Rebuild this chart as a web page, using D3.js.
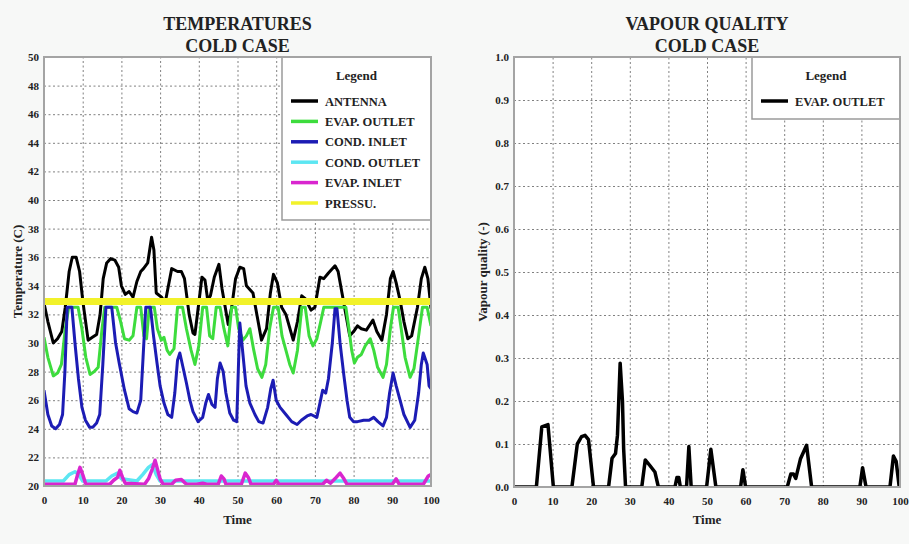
<!DOCTYPE html>
<html>
<head>
<meta charset="utf-8">
<script src="https://cdn.jsdelivr.net/npm/d3@7"></script>
<style>
    body { margin: 0; background: #f7f8f7; }
    svg { display: block; font-family: "Liberation Serif", "DejaVu Serif", serif; font-weight: bold; }
</style>
</head>
<body>
<div id="vis"></div>
<script>
// Data (time, value)
const X_TICKS = [0, 10, 20, 30, 40, 50, 60, 70, 80, 90, 100];
const TEMP_TICKS = [20, 22, 24, 26, 28, 30, 32, 34, 36, 38, 40, 42, 44, 46, 48, 50];
const QUALITY_TICKS = [0, 0.1, 0.2, 0.3, 0.4, 0.5, 0.6, 0.7, 0.8, 0.9, 1.0];

const ANTENNA = [[0,32.8],[1,31.5],[2.4,30],[3.5,30.3],[4.6,30.8],[5.5,32.5],[6.5,35],[7.3,36],[8.3,36],[9.2,35],[10,33],
    [11.4,30.2],[12.5,30.4],[13.6,30.6],[14.5,32],[15.3,34.5],[16.2,35.6],[17.2,35.9],[18.3,35.8],[19.3,35.3],[20,34],
    [21,33.4],[22,33.6],[23,33.2],[24,34.3],[25,35],[25.7,35.2],[26.8,35.6],[27.8,37.4],[28.4,36.5],[29,33.5],[30.4,33.2],
    [31.3,32.8],[32,33.8],[33,35.2],[34.5,35],[35.5,35],[36.3,34.5],[37.5,32],[38.5,30.7],[39,30.6],[40,32.8],[40.8,34.6],
    [41.6,34.4],[42.3,33],[43,33.3],[44,34.6],[45.2,35.5],[46,33.8],[47.6,31.3],[48.5,32.5],[49.5,34.5],[50.6,35.3],
    [51.6,35.2],[52.3,34],[53,33.8],[54,33.5],[55,32],[56.2,30.2],[57.5,31],[58.5,33.5],[59.3,34.8],[60.3,34.2],[61.4,32.5],
    [62.5,32],[64.4,30.2],[65.5,31.5],[66.6,33.3],[67.5,33.1],[69,32.3],[70,32.5],[71.3,34.6],[72.3,34.5],[73.5,34.9],
    [75.2,35.4],[76,35],[77,33.5],[78,32],[79,30.5],[80,30.8],[81,31.2],[82,31],[83.3,30.9],[85,31.6],[86,30.8],[87.3,30.2],
    [88.5,32],[89.5,34.5],[90.2,35],[91,34.2],[92,33],[93,31.5],[94,30.3],[95,30.5],[96.5,32.5],[97.5,34.5],[98.4,35.3],
    [99.2,34.5],[100,32.4]];

const EVAP_OUTLET = [[0,30.4],[1,29],[2.4,27.7],[3.5,27.9],[4.5,28.5],[5.5,31],[6.4,32.5],[8.8,32.5],[9.8,31],[10.8,29],
    [11.9,27.8],[13,28],[14,28.3],[15,31],[15.7,32.5],[18.8,32.5],[19.8,31.5],[20.8,30.3],[22,30.2],[23,30.5],[24,32.5],
    [25,32.5],[25.8,30.5],[26.5,30.3],[27.2,32.5],[28.5,32.5],[29.3,31],[30.3,30.2],[31,30.4],[31.8,29.5],[32.5,29.2],
    [33.6,29.6],[34.5,32.5],[35.8,32.5],[36.8,31],[38,29.5],[39,28.5],[40,29.8],[41,32.5],[42,32.5],[42.8,30.5],[43.6,30.3],
    [44.5,32.5],[45.5,32.5],[46.5,31],[47.5,29.8],[48.5,32.5],[49.5,32.5],[50.3,31],[51.4,30.2],[52.3,30.5],[53.2,31],
    [54.2,29.5],[55.2,28.2],[56.3,27.6],[57.3,28.5],[58.3,31],[59.3,32.5],[60.5,32.5],[61.5,30.5],[62.5,29.5],[63.5,28.5],
    [64.4,27.9],[65.5,29.5],[66.6,32.5],[67.5,32.5],[68.5,30.5],[69.5,29.8],[70.5,30.3],[71.5,31.5],[72.3,32.5],[78,32.5],
    [78.8,31],[79.5,29.5],[80.2,28.6],[81,29],[82,29.2],[83,29.8],[84.3,30.3],[85.2,29.5],[86.2,28.3],[87.6,27.6],[88.5,28.5],
    [89.5,31],[90.3,32.5],[91.5,32.5],[92.3,31],[93.3,29],[94.6,27.6],[95.6,28.2],[96.8,30.5],[97.8,32.5],[99,32.5],[100,31.2]];

const COND_INLET = [[0,26.7],[1,25],[2,24.2],[3,24],[4,24.3],[4.8,25],[5.4,28],[6,32.5],[7.2,32.5],[8,30],[8.9,27.5],
    [9.8,25.5],[10.7,24.6],[11.8,24.1],[12.6,24.1],[13.6,24.4],[14.4,25],[15.2,28.5],[16,32.5],[17.5,32.5],[18.5,30],
    [19.5,28.5],[20.8,26.7],[22,25.4],[23,25.2],[24,25.1],[25,26],[25.6,29],[26.3,32.5],[27.5,32.5],[28.3,30.5],[29.2,28.6],
    [30,27],[31,25.8],[32,25],[33,24.8],[33.8,26.5],[34.5,28.8],[35.1,29.3],[36,28.2],[36.8,27.2],[37.7,26],[38.5,25.2],
    [39.8,24.5],[41,24.8],[41.8,25.8],[42.5,26.4],[43.4,25.7],[44.2,25.5],[44.8,27.5],[45.5,28.6],[46.3,28],[47,26.5],
    [48,25.1],[49,24.6],[49.8,24.5],[50.2,28],[50.6,31.4],[51.3,29.5],[52.2,27],[53.2,25.8],[54.5,25],[55.5,24.5],[56.6,24.4],
    [57.8,25.5],[58.6,26.8],[59.2,27.4],[60,26],[61,25.5],[62.5,25],[64,24.5],[65.4,24.3],[66.5,24.6],[68,24.9],[69,25],
    [70.5,24.8],[71.3,25.8],[72,26.7],[72.8,26.5],[73.5,27.5],[74.5,30],[75.2,32.4],[75.7,32.4],[76.5,30],[77.5,27.7],
    [78.3,26],[79,24.8],[80,24.5],[81,24.5],[82.6,24.6],[84,24.6],[85.2,24.8],[86.3,24.5],[87.6,24.2],[88.5,24.8],[89.3,26.5],
    [90.2,27.9],[91,27],[92,26],[93,25],[94.6,24.1],[95.8,24.6],[96.8,26.5],[97.5,28.5],[98,29.3],[99,28.5],[99.5,27],[100,26.8]];

const COND_OUTLET = [[0,20.35],[5,20.35],[6.5,20.8],[8,21],[9,20.8],[10,20.35],[16,20.35],[17.5,20.7],[19,20.9],[20,20.5],
    [24,20.35],[25.5,20.8],[27,21.3],[28,21.5],[29,20.8],[30,20.35],[100,20.35]];

const EVAP_INLET = [[0,20.12],[8,20.12],[8.7,20.8],[9.3,21.3],[10,20.8],[10.7,20.2],[11,20.12],[17,20.12],[18,20.4],[19,20.6],
    [19.6,21.1],[20.3,20.6],[21,20.2],[26,20.12],[27,20.5],[28,21.2],[28.7,21.8],[29.3,21.2],[30,20.5],[30.8,20.12],[33,20.12],
    [34,20.4],[35.5,20.45],[36.5,20.2],[37,20.12],[39.5,20.12],[41,20.2],[42,20.12],[45,20.12],[45.8,20.7],[46.5,20.5],[47,20.12],
    [51,20.12],[52,20.9],[52.8,20.6],[53.5,20.12],[59.3,20.12],[60,20.4],[60.7,20.12],[72,20.12],[73,20.4],[74,20.2],[75.5,20.6],
    [76.5,20.9],[77.5,20.5],[78.3,20.12],[90,20.12],[91,20.5],[91.8,20.12],[98,20.12],[99.3,20.7],[100,20.8]];

const PRESSU = [[0,32.9],[100,32.9]];

const QUALITY = [[0,0],[5.8,0],[7.2,0.14],[8.8,0.145],[10.2,0],[15,0],[16.4,0.1],[17.5,0.117],[18.4,0.12],[19.3,0.11],
    [20.6,0],[24.5,0],[25.4,0.067],[26.3,0.078],[26.8,0.12],[27.5,0.288],[28.1,0.2],[28.4,0.09],[28.9,0],[33.1,0],[34,0.063],
    [35.2,0.05],[36.5,0.035],[37.4,0],[41.7,0],[42.2,0.022],[42.7,0.022],[43.1,0],[44.7,0],[45.3,0.094],[45.9,0],[49.9,0],
    [51,0.088],[52.3,0],[58.7,0],[59.3,0.04],[60,0],[70.8,0],[71.7,0.03],[72.4,0.03],[73,0.02],[74.2,0.065],[75.8,0.097],
    [77.1,0],[89.6,0],[90.3,0.045],[91.2,0],[97.4,0],[98.3,0.072],[99,0.06],[99.8,0],[100,0]];

// Constants
const FRAME_WIDTH = 909;
const FRAME_HEIGHT = 544;
const TICK_FONT = "11px";

const FRAME = d3.select("#vis")
    .append("svg")
    .attr("width", FRAME_WIDTH)
    .attr("height", FRAME_HEIGHT);

function build_panel(p) {

    const X_SCALE = d3.scaleLinear().domain([0, 100]).range([p.left, p.right]);
    const Y_SCALE = d3.scaleLinear().domain(p.yDomain).range([p.bottom, p.top]);
    const PW = p.right - p.left;
    const PH = p.bottom - p.top;

    // white plot area
    FRAME.append("rect")
        .attr("x", p.left).attr("y", p.top)
        .attr("width", PW).attr("height", PH)
        .attr("fill", "#ffffff");

    // y axis with grid lines
    const yAxis = FRAME.append("g")
        .attr("transform", "translate(" + p.left + ",0)")
        .call(d3.axisLeft(Y_SCALE).tickValues(p.yTicks).tickSize(-PW).tickPadding(5).tickFormat(p.yFormat));
    // x axis with grid lines
    const xAxis = FRAME.append("g")
        .attr("transform", "translate(0," + p.bottom + ")")
        .call(d3.axisBottom(X_SCALE).tickValues(X_TICKS).tickSize(-PH).tickPadding(10).tickFormat(d3.format("d")));

    [yAxis, xAxis].forEach((g) => {
        g.select(".domain").remove();
        g.selectAll(".tick line")
            .attr("stroke", "#808080")
            .attr("stroke-width", 1)
            .attr("stroke-dasharray", "2,2.5");
        g.selectAll(".tick text")
            .attr("fill", "#222")
            .attr("font-size", TICK_FONT)
            .attr("font-family", "Liberation Serif, serif")
            .attr("font-weight", "bold");
    });

    // curves
    const clipId = "clip" + p.left;
    FRAME.append("clipPath").attr("id", clipId)
        .append("rect")
        .attr("x", p.left).attr("y", p.top - 4)
        .attr("width", PW).attr("height", PH + 4);

    const line = d3.line()
        .x((d) => { return X_SCALE(d[0]); })
        .y((d) => { return Y_SCALE(d[1]); });

    FRAME.append("g")
        .attr("clip-path", "url(#" + clipId + ")")
        .selectAll("path")
        .data(p.series)
        .enter()
        .append("path")
        .attr("d", (d) => { return line(d.values); })
        .attr("fill", "none")
        .attr("stroke", (d) => { return d.color; })
        .attr("stroke-width", (d) => { return d.width; })
        .attr("stroke-linejoin", "round");

    // legend
    const lg = FRAME.append("g");
    lg.append("rect")
        .attr("x", p.legend.x).attr("y", p.top)
        .attr("width", p.right - p.legend.x).attr("height", p.legend.h)
        .attr("fill", "#ffffff")
        .attr("stroke", "#9a9a9a")
        .attr("stroke-width", 1.5);
    lg.append("text")
        .attr("x", (p.legend.x + p.right) / 2)
        .attr("y", p.top + 23)
        .attr("text-anchor", "middle")
        .attr("font-size", "13px")
        .attr("fill", "#222")
        .text("Legend");
    const rows = lg.selectAll(".row")
        .data(p.series)
        .enter()
        .append("g")
        .attr("transform", (d, i) => { return "translate(" + p.legend.x + "," + (p.top + 44 + i * 20.4) + ")"; });
    rows.append("line")
        .attr("x1", 9).attr("x2", 36)
        .attr("stroke", (d) => { return d.color; })
        .attr("stroke-width", 3.5);
    rows.append("text")
        .attr("x", 43).attr("y", 4.5)
        .attr("font-size", "12.5px")
        .attr("fill", "#222")
        .text((d) => { return d.name; });

    // frame border
    FRAME.append("rect")
        .attr("x", p.left).attr("y", p.top)
        .attr("width", PW).attr("height", PH)
        .attr("fill", "none")
        .attr("stroke", "#a4a4a4")
        .attr("stroke-width", 2);

    // titles
    const cx = (p.left + p.right) / 2;
    FRAME.append("text")
        .attr("x", cx).attr("y", 30)
        .attr("text-anchor", "middle")
        .attr("font-size", "18px")
        .attr("fill", "#222")
        .text(p.title);
    FRAME.append("text")
        .attr("x", cx).attr("y", 52)
        .attr("text-anchor", "middle")
        .attr("font-size", "18px")
        .attr("fill", "#222")
        .text("COLD CASE");
    FRAME.append("text")
        .attr("x", cx).attr("y", 524)
        .attr("text-anchor", "middle")
        .attr("font-size", "13px")
        .attr("fill", "#222")
        .text("Time");
    FRAME.append("text")
        .attr("transform", "translate(" + p.yLabelX + "," + ((p.top + p.bottom) / 2) + ") rotate(-90)")
        .attr("text-anchor", "middle")
        .attr("font-size", "13px")
        .attr("fill", "#222")
        .text(p.yLabel);
}

build_panel({
    left: 44, right: 431, top: 57, bottom: 486,
    yDomain: [20, 50], yTicks: TEMP_TICKS, yFormat: d3.format("d"),
    title: "TEMPERATURES", yLabel: "Temperature (C)", yLabelX: 22,
    legend: { x: 282, h: 163 },
    series: [
        { name: "ANTENNA", values: ANTENNA, color: "#000000", width: 3 },
        { name: "EVAP. OUTLET", values: EVAP_OUTLET, color: "#3ddc3d", width: 3 },
        { name: "COND. INLET", values: COND_INLET, color: "#1c1cb4", width: 3 },
        { name: "COND. OUTLET", values: COND_OUTLET, color: "#5ce6f2", width: 3.5 },
        { name: "EVAP. INLET", values: EVAP_INLET, color: "#d926cf", width: 3.5 },
        { name: "PRESSU.", values: PRESSU, color: "#f2f22a", width: 7 }
    ]
});

build_panel({
    left: 514, right: 900, top: 57, bottom: 487,
    yDomain: [0, 1], yTicks: QUALITY_TICKS, yFormat: d3.format(".1f"),
    title: "VAPOUR QUALITY", yLabel: "Vapour quality (-)", yLabelX: 487,
    legend: { x: 752, h: 62 },
    series: [
        { name: "EVAP. OUTLET", values: QUALITY, color: "#000000", width: 3.5 }
    ]
});
</script>
</body>
</html>
